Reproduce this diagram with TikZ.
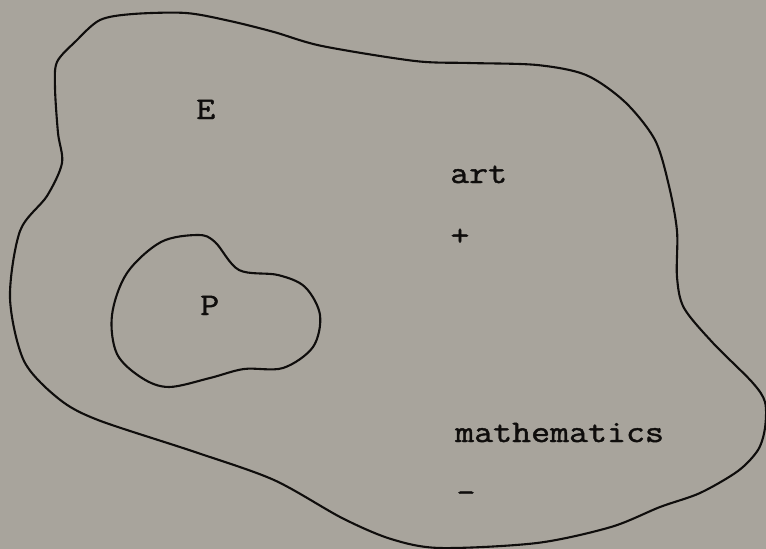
\documentclass[tikz,border=0pt]{standalone}
\usepackage{fontspec}
\setmonofont{Latin Modern Mono}[FakeStretch=1.17,FakeBold=1.4]
\definecolor{paper}{RGB}{168,164,156}
\definecolor{ink}{RGB}{15,13,12}
\begin{document}
\begin{tikzpicture}[x=1pt,y=-1pt,
  blob/.style={draw=ink,line width=2.1pt,line join=round},
  lbl/.style={font=\ttfamily\fontsize{31.5}{31.5}\selectfont,text=ink,inner sep=0pt,anchor=base west}]
\fill[paper] (0,0) rectangle (766,549);
\useasboundingbox (0,0) rectangle (766,549);
% outer region E
\draw[blob] plot[smooth cycle,tension=0.5] coordinates {
 (57,62) (76,41) (100,20) (133,14) (186,13) (230,21) (274,32) (322,46) (415,61)
 (469,63) (537,65) (586,75) (625,102) (655,140) (669,186) (677,231)
 (677,277) (684,308) (713,343) (752,382) (765,402) (765,428) (758,450)
 (738,471) (700,493) (660,507) (611,527) (537,543) (440,548) (391,539) (342,518) (274,480)
 (195,452) (98,420) (59,399) (24,361) (10,298) (20,231) (47,196)
 (62,163) (58,133) (55,88)};
% inner region P
\draw[blob] plot[smooth cycle,tension=0.55] coordinates {
 (198,235) (215,242) (239,270) (278,275) (305,287) (320,315) (313,347)
 (283,368) (244,369) (210,378) (169,387) (142,378) (117,354) (112,315)
 (127,273) (161,242)};
\node[lbl] (E) at (196,119) {E};
\node[lbl] (P) at (200,315) {P};
\node[lbl] (art) at (450,183) {art};
\node[lbl,anchor=center] (plus) at (460,237) {+};
\node[lbl] (math) at (455,442) {mathematics};
\node[lbl,anchor=center] (minus) at (466,497) {-};
\end{tikzpicture}
\end{document}
